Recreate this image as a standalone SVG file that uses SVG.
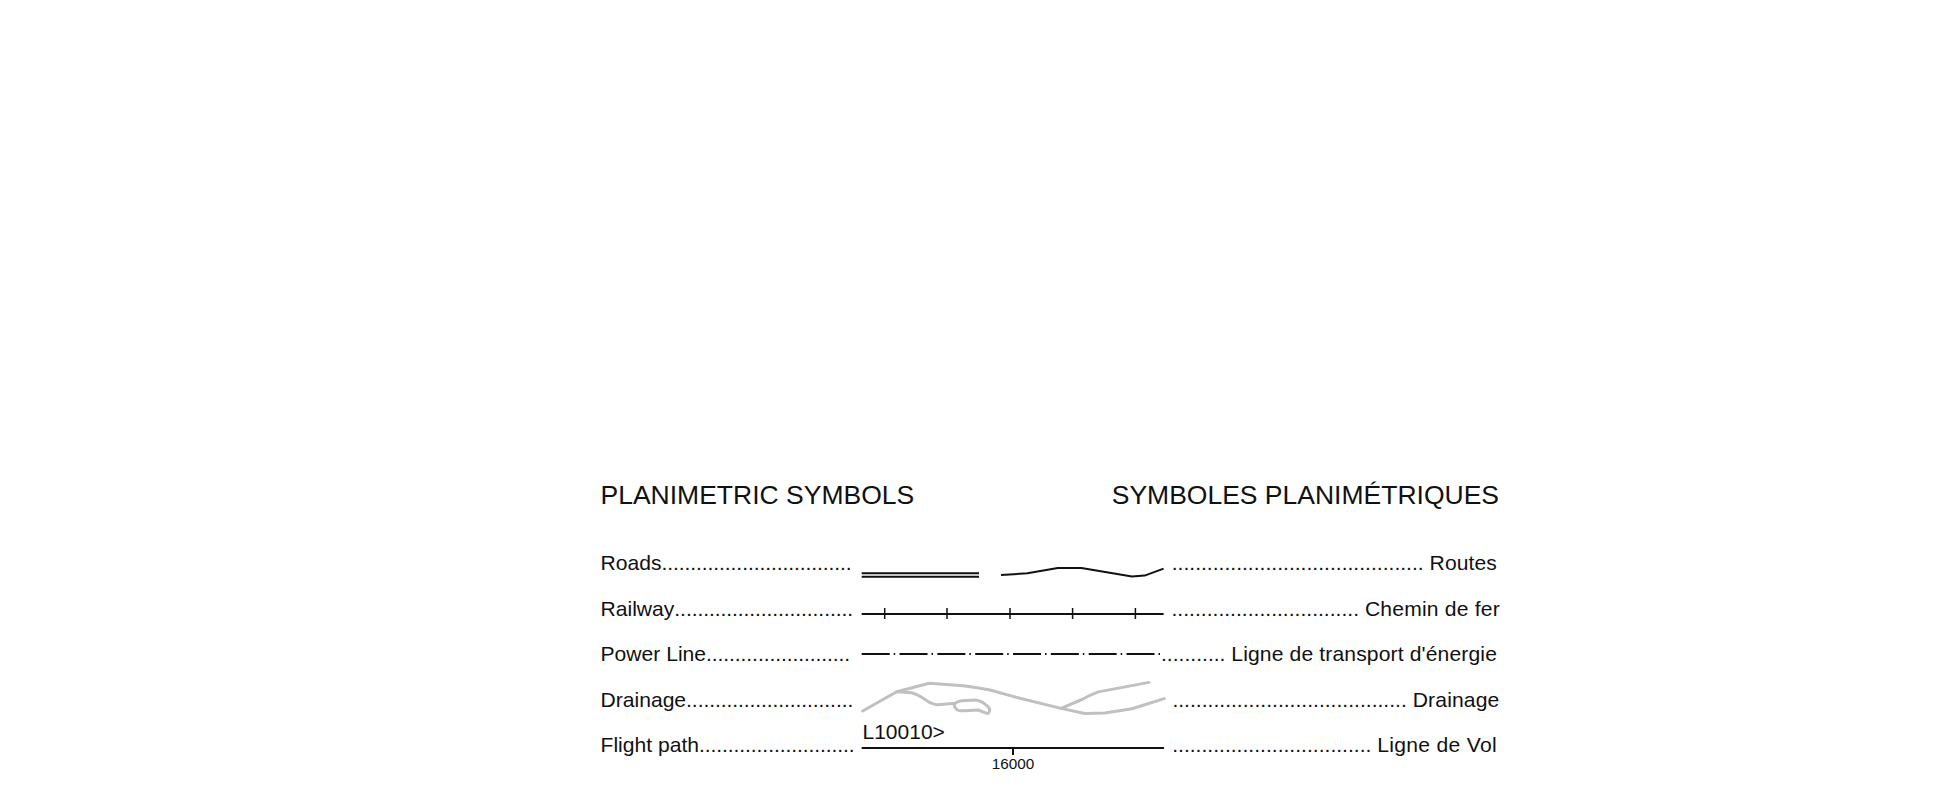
<svg xmlns="http://www.w3.org/2000/svg" width="1959" height="808" viewBox="0 0 1959 808">
<style>
text{font-family:"Liberation Sans",Arial,sans-serif;fill:#111;font-size:21.1px}
.t{font-size:26.5px}
.e{text-anchor:end}
.d{letter-spacing:-0.1px}
.k{fill:none;stroke:#111;stroke-width:2;stroke-linejoin:round}
.g{fill:none;stroke:#c0c0c0;stroke-width:3;stroke-linejoin:round;stroke-linecap:round}
</style>
<rect width="1959" height="808" fill="#fff"/>
<g id="titles">
<text class="t" x="600.5" y="504">PLANIMETRIC SYMBOLS</text>
<text class="t e" x="1499" y="504">SYMBOLES PLANIMÉTRIQUES</text>
</g>
<g id="labels-en">
<text x="600.5" y="570">Roads<tspan class="d">.................................</tspan></text>
<text x="600.5" y="616">Railway<tspan class="d">...............................</tspan></text>
<text x="600.5" y="661">Power Line<tspan class="d">.........................</tspan></text>
<text x="600.5" y="707">Drainage<tspan class="d">.............................</tspan></text>
<text x="600.5" y="752">Flight path<tspan class="d">...........................</tspan></text>
</g>
<g id="labels-fr">
<text class="e" x="1497" y="570">........................................... <tspan style="letter-spacing:.1px">Routes</tspan></text>
<text class="e" x="1500" y="616">................................ <tspan style="letter-spacing:.2px">Chemin de fer</tspan></text>
<text class="e" x="1497" y="661">........... <tspan style="letter-spacing:.13px">Ligne de transport d'énergie</tspan></text>
<text class="e" x="1499.5" y="707">........................................ <tspan style="letter-spacing:.15px">Drainage</tspan></text>
<text class="e" x="1497" y="752">.................................. <tspan style="letter-spacing:.3px">Ligne de Vol</tspan></text>
</g>
<g id="connectors">
<g id="roads">
<path class="k" d="M861.7 573.3H979M861.7 576.7H979"/>
<path class="k" d="M1001 575L1027.4 573.3L1057.8 568L1081.4 568L1132 576.6L1144.6 575.6L1163.6 568.6"/>
</g>
<g id="railway">
<path class="k" d="M861.7 614H1163.6"/>
<path class="k" style="stroke-width:1.5" d="M884.7 608V619M947 608V619M1010 608V619M1072.6 608V619M1135.4 608V619"/>
</g>
<g id="power-line">
<path class="k" stroke-dasharray="28 4 1.5 4.33" d="M861.7 654H1160"/>
</g>
<g id="drainage">
<path class="g" d="M862.7 711L896.7 691.7L929.3 683.3L963.3 685.7Q978 687.5 990 690L1020 698.3L1061 708.4L1082 699.5Q1090 695 1098.3 691.9L1149 682.4"/>
<path class="g" d="M1061 708.4L1084.8 713.5L1104.7 713.1L1132 708.8L1164.3 698.6"/>
<path class="g" d="M896.7 691.7L911.7 692.7Q917 694 921.7 697.3L930 702.7Q934 704.7 937.3 704.7L955 703.3Q958 701 961.7 700.7L975 700Q982 701 985 704.3Q991 708 989.3 711.7Q988 714 986.7 713.3L978.3 710L965 710.7Q958 711 956.7 709.3Q953 706 955 703.3"/>
</g>
<g id="flight-path">
<path class="k" d="M861.7 748H1164M1013 748V755"/>
<text x="862.5" y="739" style="font-size:21px">L10010&gt;</text>
<text x="1013" y="768.5" text-anchor="middle" style="font-size:15.3px">16000</text>
</g>
</g>
</svg>
